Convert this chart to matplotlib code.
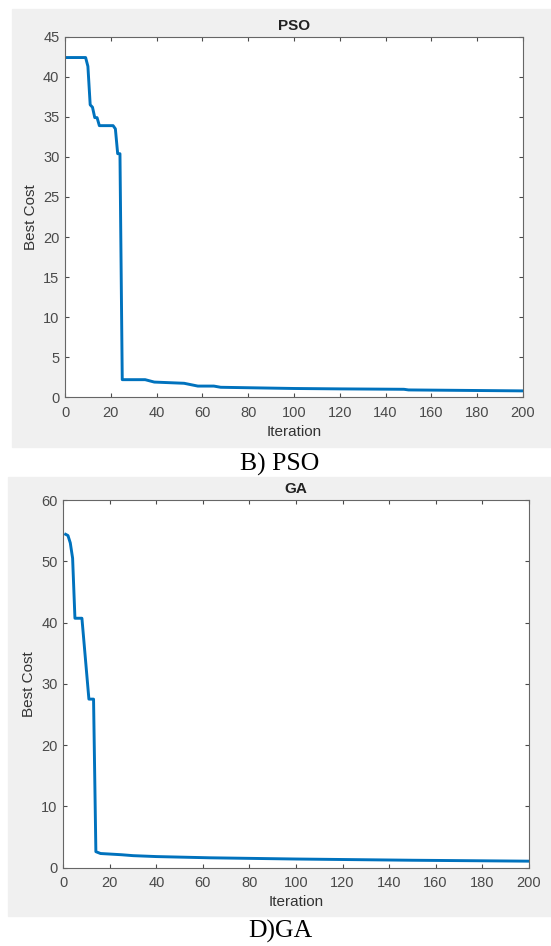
import matplotlib.pyplot as plt
from matplotlib.patches import Rectangle

# convergence curves (iteration, best cost)
pso_iter = [1, 9, 10, 11, 12, 13, 14, 15, 21, 22, 23, 24, 25, 35, 39, 52, 58, 65, 68,
            100, 120, 148, 150, 200]
pso_cost = [42.4, 42.4, 41.3, 36.5, 36.2, 34.9, 34.9, 33.9, 33.9, 33.5, 30.4, 30.4, 2.2,
            2.2, 1.9, 1.75, 1.4, 1.4, 1.25, 1.1, 1.05, 1.0, 0.92, 0.8]

ga_iter = [1, 2, 3, 4, 5, 8, 11, 13, 14, 16, 25, 30, 40, 63, 100, 150, 200]
ga_cost = [54.4, 54.2, 53.0, 50.5, 40.7, 40.7, 27.5, 27.5, 2.6, 2.3, 2.1, 1.95, 1.8,
           1.6, 1.4, 1.2, 1.05]

pso_yticks = [0, 5, 10, 15, 20, 25, 30, 35, 40, 45]
ga_yticks = [0, 10, 20, 30, 40, 50, 60]
xticks = list(range(0, 201, 20))

plt.rcParams['font.family'] = ['Liberation Sans', 'DejaVu Sans']

W, H = 551, 946
fig = plt.figure(figsize=(W / 100, H / 100), dpi=100)

# grey MATLAB figure backgrounds
fig.patches.append(Rectangle((12 / W, 1 - 446.7 / H), 539 / W, 437.7 / H,
                             transform=fig.transFigure, color='#f0f0f0', zorder=-1))
fig.patches.append(Rectangle((8 / W, 1 - 916 / H), 543 / W, 438.7 / H,
                             transform=fig.transFigure, color='#f0f0f0', zorder=-1))


def make_panel(rect, x, y, title, ylim, yticks):
    ax = fig.add_axes(rect, zorder=2)
    ax.plot(x, y, color='#0072BD', lw=2.1)
    ax.set_xlim(0, 200)
    ax.set_ylim(*ylim)
    ax.set_xticks(xticks)
    ax.set_yticks(yticks)
    ax.tick_params(direction='in', length=3, width=0.8, top=True, right=True,
                   labelsize=10.5, colors='#4a4a4a')
    ax.tick_params(axis='x', pad=6)
    ax.tick_params(axis='y', pad=4)
    for s in ax.spines.values():
        s.set_color('#666666')
        s.set_linewidth(0.8)
    ax.set_title(title, fontsize=11, fontweight='bold', color='#222222', pad=5)
    ax.set_xlabel('Iteration', fontsize=11, color='#333333', labelpad=4)
    ax.set_ylabel('Best Cost', fontsize=11, color='#333333', labelpad=4)
    return ax


make_panel([65 / W, 1 - 397.3 / H, 458 / W, 360.6 / H], pso_iter, pso_cost,
           'PSO', (0, 45), pso_yticks)
make_panel([63.3 / W, 1 - 867.6 / H, 465.4 / W, 367.6 / H], ga_iter, ga_cost,
           'GA', (0, 60), ga_yticks)

fig.text(280 / W, 1 - 464 / H, 'B) PSO', family='Liberation Serif', fontsize=18.5,
         ha='center', va='center')
fig.text(280 / W, 1 - 931 / H, 'D)GA', family='Liberation Serif', fontsize=18.5,
         ha='center', va='center')

fig.savefig('out.png', dpi=100, facecolor='white')
